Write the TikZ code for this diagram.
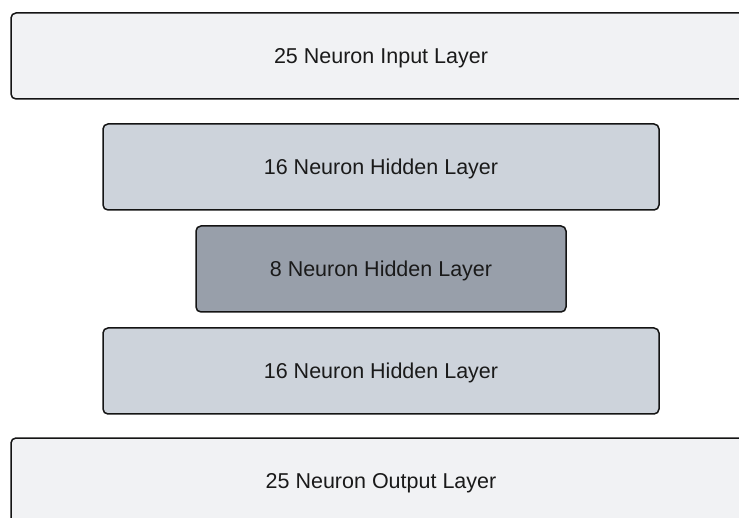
\documentclass[tikz,border=0pt]{standalone}
\usepackage{fontspec}
\setmainfont{Liberation Sans}
\definecolor{inputfill}{HTML}{F1F2F4}
\definecolor{hiddenfill}{HTML}{CDD3DB}
\definecolor{corefill}{HTML}{989FAA}
\definecolor{edge}{HTML}{141414}
\definecolor{label}{HTML}{1A1A1A}
\begin{document}
\begin{tikzpicture}[x=1pt,y=-1pt,
  layer/.style={draw=edge, line width=1.5pt, rounded corners=5pt,
    minimum height=86pt, inner sep=0pt, text=label,
    text height=15.3pt, text depth=0pt,
    font=\fontsize{21.5}{25}\selectfont},
  outer/.style={layer, fill=inputfill, minimum width=740pt},
  hidden/.style={layer, fill=hiddenfill, minimum width=556pt},
  core/.style={layer, fill=corefill, minimum width=370pt}]
  \useasboundingbox (0,0) rectangle (739,518);
  \clip (0,0) rectangle (739,518);
  \fill[white] (0,0) rectangle (739,518);
  \node[outer]  (in)   at (381,56)  {25 Neuron Input Layer};
  \node[hidden] (h1)   at (381,167) {16 Neuron Hidden Layer};
  \node[core]   (mid)  at (381,269) {8 Neuron Hidden Layer};
  \node[hidden] (h2)   at (381,371) {16 Neuron Hidden Layer};
  \node[outer]  (out)  at (381,481) {25 Neuron Output Layer};
\end{tikzpicture}
\end{document}
